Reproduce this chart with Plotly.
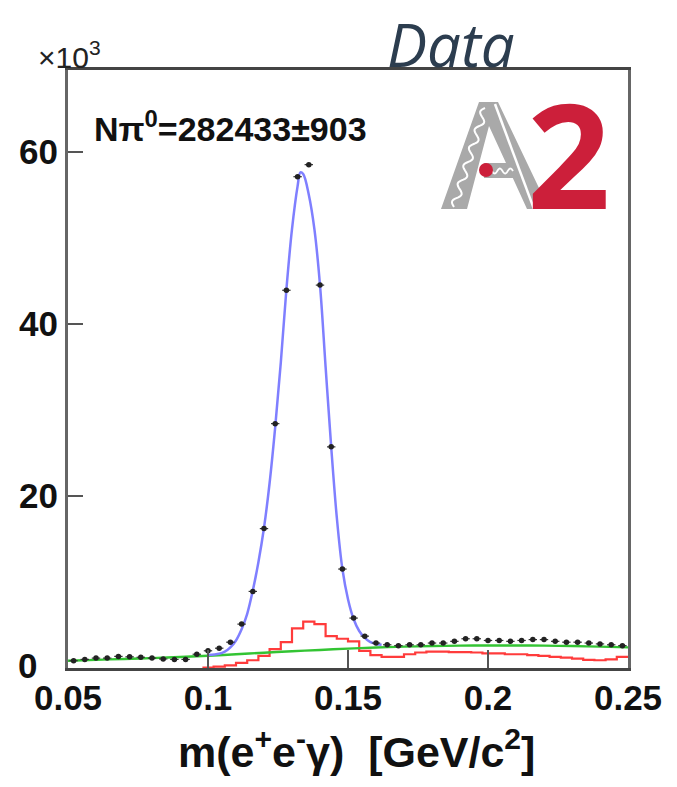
import numpy as np
import plotly.graph_objects as go

# ---------------- data (values in units of 10^3) ----------------
bin_width = 0.004
data_x = [0.052, 0.056, 0.060, 0.064, 0.068, 0.072, 0.076, 0.080, 0.084, 0.088,
          0.092, 0.096, 0.100, 0.104, 0.108, 0.112, 0.116, 0.120, 0.124, 0.128,
          0.132, 0.136, 0.140, 0.144, 0.148, 0.152, 0.156, 0.160, 0.164, 0.168,
          0.172, 0.176, 0.180, 0.184, 0.188, 0.192, 0.196, 0.200, 0.204, 0.208,
          0.212, 0.216, 0.220, 0.224, 0.228, 0.232, 0.236, 0.240, 0.244, 0.248]
data_y = [0.85, 1.0, 1.15, 1.15, 1.35, 1.3, 1.25, 1.15, 1.05, 1.0,
          1.0, 1.6, 2.0, 2.3, 3.0, 5.1, 8.9, 16.2, 28.4, 43.9,
          57.1, 58.5, 44.5, 25.7, 11.5, 5.8, 3.7, 2.9, 2.7, 2.6,
          2.7, 2.7, 2.9, 2.9, 3.1, 3.4, 3.4, 3.2, 3.2, 3.1,
          3.2, 3.3, 3.3, 3.1, 3.0, 3.0, 2.9, 2.8, 2.7, 2.6]

fit_x = [0.100, 0.104, 0.106, 0.108, 0.110, 0.112, 0.114, 0.116, 0.118, 0.120,
         0.122, 0.124, 0.126, 0.128, 0.130, 0.132, 0.133, 0.134, 0.136, 0.138,
         0.140, 0.142, 0.144, 0.146, 0.148, 0.150, 0.152, 0.154, 0.156, 0.158,
         0.160, 0.162]
fit_y = [1.5, 1.65, 1.9, 2.4, 3.2, 4.5, 6.3, 9.0, 12.3, 16.3,
         21.5, 28.0, 35.5, 44.0, 51.0, 56.0, 57.6, 57.4, 55.0, 51.0,
         44.5, 35.0, 25.7, 17.5, 11.5, 8.0, 5.7, 4.3, 3.5, 3.0,
         2.8, 2.7]

bkg_x = [0.05, 0.06, 0.07, 0.08, 0.09, 0.10, 0.11, 0.12, 0.13, 0.14, 0.15,
         0.16, 0.17, 0.18, 0.19, 0.20, 0.21, 0.22, 0.23, 0.24, 0.25]
bkg_y = [0.85, 0.95, 1.05, 1.15, 1.28, 1.42, 1.6, 1.78, 1.95, 2.1, 2.25,
         2.38, 2.48, 2.55, 2.6, 2.62, 2.62, 2.6, 2.55, 2.48, 2.4]

mc_x = [0.100, 0.104, 0.108, 0.112, 0.116, 0.120, 0.124, 0.128, 0.132, 0.136,
        0.140, 0.144, 0.148, 0.152, 0.156, 0.160, 0.164, 0.168, 0.172, 0.176,
        0.180, 0.184, 0.188, 0.192, 0.196, 0.200, 0.204, 0.208, 0.212, 0.216,
        0.220, 0.224, 0.228, 0.232, 0.236, 0.240, 0.244, 0.248]
mc_y = [0.05, 0.15, 0.3, 0.6, 0.9, 1.4, 2.2, 3.0, 4.6, 5.4,
        5.1, 3.7, 3.4, 3.1, 2.0, 1.5, 1.3, 1.3, 1.6, 1.8,
        1.9, 1.9, 1.85, 1.85, 1.8, 1.7, 1.7, 1.6, 1.6, 1.5,
        1.4, 1.3, 1.2, 1.1, 0.95, 0.9, 1.0, 1.3]

x_ticks = [0.05, 0.1, 0.15, 0.2, 0.25]
x_tick_text = ["0.05", "0.1", "0.15", "0.2", "0.25"]
y_ticks = [0, 20, 40, 60]
y_tick_text = ["", "20", "40", "60"]

# ---------------- layout geometry (page pixels) ----------------
PAGE_W, PAGE_H = 677, 787
OFF = 8                      # default body margin of the page
W, H = PAGE_W - OFF, PAGE_H - OFF
L, R, T, B = 68, 628, 70, 668   # plot frame in page pixels


def px(x):
    return (x - L) / (R - L)


def py(y):
    return (B - y) / (B - T)


def path(points, close=False):
    s = "M " + " L ".join(f"{px(a):.5f},{py(b):.5f}" for a, b in points)
    return s + (" Z" if close else "")


def wave(p0, p1, amp, periods, n=80):
    p0 = np.array(p0, float)
    p1 = np.array(p1, float)
    d = p1 - p0
    nrm = np.array([-d[1], d[0]]) / np.hypot(*d)
    t = np.linspace(0, 1, n)
    pts = p0[None, :] + t[:, None] * d[None, :] + amp * np.sin(2 * np.pi * periods * t)[:, None] * nrm[None, :]
    return [tuple(p) for p in pts]


SANS = "Liberation Sans, Arial, Helvetica, sans-serif"

fig = go.Figure()

mc_edges = [c - bin_width / 2 for c in mc_x] + [mc_x[-1] + bin_width / 2]
fig.add_trace(go.Scatter(x=mc_edges, y=mc_y + [mc_y[-1]], mode="lines",
                         line=dict(color="#ff3b3b", width=2.2, shape="hv"),
                         showlegend=False))
fig.add_trace(go.Scatter(x=bkg_x, y=bkg_y, mode="lines",
                         line=dict(color="#33c433", width=2.4, shape="spline"),
                         showlegend=False))
fig.add_trace(go.Scatter(x=fit_x, y=fit_y, mode="lines",
                         line=dict(color="#7f7fff", width=2.5, shape="spline"),
                         showlegend=False))
fig.add_trace(go.Scatter(x=data_x, y=data_y, mode="markers",
                         marker=dict(color="#222222", size=5.5),
                         error_x=dict(type="constant", value=0.0015, thickness=1.2,
                                      width=0, color="#333333"),
                         showlegend=False))

tick_font = dict(family=SANS, size=35, color="#111111", weight="bold")

fig.update_xaxes(range=[0.05, 0.25], tickvals=x_ticks, ticktext=x_tick_text,
                 ticks="inside", ticklen=18, tickwidth=2, tickcolor="#555555",
                 showline=True, linecolor="#444444", linewidth=3, mirror=True,
                 showgrid=False, zeroline=False, tickfont=tick_font,
                 ticklabelstandoff=-3, automargin=False)
fig.update_yaxes(range=[0, 69.5], tickvals=y_ticks, ticktext=y_tick_text,
                 ticks="inside", ticklen=15, tickwidth=2, tickcolor="#555555",
                 showline=True, linecolor="#666666", linewidth=3, mirror=True,
                 showgrid=False, zeroline=False, tickfont=tick_font,
                 ticklabelstandoff=0, automargin=False)

ann = []
ann.append(dict(text="0", x=px(27), y=py(665), xref="paper", yref="paper",
                showarrow=False, font=tick_font, xanchor="center", yanchor="middle"))
ann.append(dict(text="m(e<sup>+</sup>e<sup>-</sup>γ)  [GeV/c<sup>2</sup>]",
                x=px(356), y=py(749), xref="paper", yref="paper", showarrow=False,
                font=dict(family=SANS, size=43, color="#111111", weight="bold"),
                xanchor="center", yanchor="middle"))
ann.append(dict(text="×10<sup>3</sup>", x=px(36), y=py(55), xref="paper", yref="paper",
                showarrow=False, xanchor="left", yanchor="middle",
                font=dict(family=SANS, size=30, color="#222222")))
ann.append(dict(text="Nπ<sup>0</sup>=282433±903", x=px(92), y=py(126),
                xref="paper", yref="paper", showarrow=False, xanchor="left",
                yanchor="middle",
                font=dict(family=SANS, size=34, color="#111111", weight="bold")))
ann.append(dict(text="<i>Data</i>", x=px(451), y=py(44), xref="paper", yref="paper",
                showarrow=False, xanchor="center", yanchor="middle",
                font=dict(family="Open Sans, Lato, sans-serif", size=60,
                          color="#2c3d4f")))
ann.append(dict(text="<b>2</b>", x=px(568), y=py(152), xref="paper", yref="paper",
                showarrow=False, xanchor="center", yanchor="middle",
                font=dict(family="Open Sans, Liberation Sans, sans-serif", size=146,
                          color="#cc1f3a")))

shapes = []
grey = "#a9a9a9"
shapes.append(dict(type="path", xref="paper", yref="paper", layer="above",
                   path=path([(441, 209), (479, 102), (498, 102), (549, 209),
                              (527, 209), (489, 126), (467, 209)], close=True),
                   fillcolor=grey, line=dict(width=0)))
shapes.append(dict(type="path", xref="paper", yref="paper", layer="above",
                   path=path([(484, 163), (508, 163), (514, 178), (484, 178)], close=True),
                   fillcolor=grey, line=dict(width=0)))
shapes.append(dict(type="line", xref="paper", yref="paper", layer="above",
                   x0=px(495), y0=py(104), x1=px(534), y1=py(209),
                   line=dict(color="white", width=2.5)))
shapes.append(dict(type="path", xref="paper", yref="paper", layer="above",
                   path=path(wave((485, 108), (454, 207), 3.5, 5.5)),
                   line=dict(color="white", width=2)))
shapes.append(dict(type="path", xref="paper", yref="paper", layer="above",
                   path=path(wave((492, 171), (513, 171), 2.5, 2)),
                   line=dict(color="white", width=1.8)))
shapes.append(dict(type="circle", xref="paper", yref="paper", layer="above",
                   x0=px(479), x1=px(493), y0=py(163), y1=py(177),
                   fillcolor="#cc1f3a", line=dict(width=0)))

fig.update_layout(width=W, height=H,
                  margin=dict(l=L - OFF, r=PAGE_W - R, t=T - OFF, b=PAGE_H - B,
                              autoexpand=False),
                  paper_bgcolor="white", plot_bgcolor="white",
                  annotations=ann, shapes=shapes, showlegend=False)

fig.write_html("out.html")
